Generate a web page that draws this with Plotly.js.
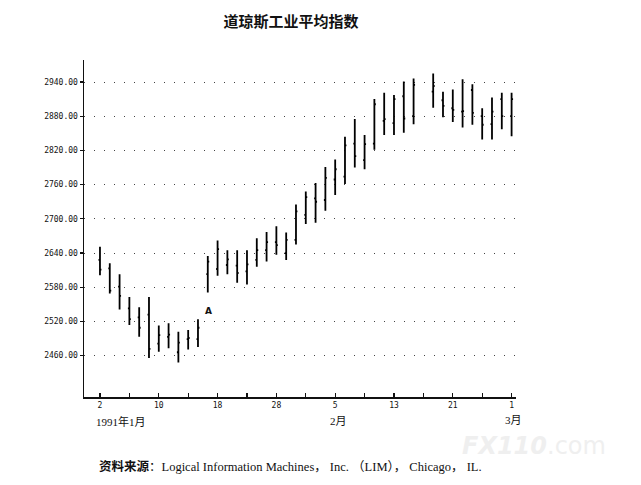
<!DOCTYPE html>
<html>
<head>
<meta charset="utf-8">
<script src="https://cdn.plot.ly/plotly-3.0.1.min.js"></script>
<style>html,body{margin:0;padding:0;background:#fff;}#chart{width:641px;height:485px;}</style>
</head>
<body>
<div id="chart"></div>
<script>
// Trading-day slots (Feb 18 holiday kept as an empty slot)
const days = ['1/2','1/3','1/4','1/7','1/8','1/9','1/10','1/11','1/14','1/15','1/16','1/17','1/18',
  '1/21','1/22','1/23','1/24','1/25','1/28','1/29','1/30','1/31','2/1','2/4','2/5','2/6','2/7','2/8',
  '2/11','2/12','2/13','2/14','2/15','2/18','2/19','2/20','2/21','2/22','2/25','2/26','2/27','2/28','3/1'];
const openV  = [2628,2613,2581,2543,2527,2532,2481,2493,2466,2489,2489,2603,2612,
  2619,2618,2608,2628,2645,2659,2640,2663,2707,2736,2733,2769,2774,2832,2803,
  2832,2872,2868,2915,2880,null,2923,2908,2894,2888,2926,2880,2866,2910,2880];
const highV  = [2651,2622,2603,2563,2545,2563,2513,2517,2502,2505,2524,2635,2662,
  2645,2645,2645,2666,2677,2687,2676,2725,2748,2763,2791,2804,2844,2875,2847,
  2910,2921,2917,2941,2946,null,2955,2923,2927,2945,2936,2894,2913,2921,2921];
const lowV   = [2601,2569,2541,2514,2493,2456,2467,2473,2448,2471,2475,2571,2600,
  2603,2588,2585,2616,2625,2637,2628,2655,2691,2693,2714,2742,2761,2790,2787,
  2821,2847,2847,2851,2866,null,2895,2878,2870,2860,2865,2839,2839,2857,2845];
const closeV = [2611,2574,2565,2524,2509,2472,2496,2497,2483,2491,2509,2625,2647,
  2629,2605,2620,2645,2659,2654,2663,2713,2738,2730,2772,2787,2829,2810,2831,
  2901,2875,2910,2876,2935,null,2933,2898,2891,2889,2886,2865,2888,2880,2910];
const tickLabels = ['2','','10','','18','','28','','5','','13','','21','','1'];
const yTicks = [2460,2520,2580,2640,2700,2760,2820,2880,2940];

const xs=[],o=[],h=[],l=[],c=[];
days.forEach((d,i)=>{ if(highV[i]!==null){xs.push(i);o.push(openV[i]);h.push(highV[i]);l.push(lowV[i]);c.push(closeV[i]);} });
const tickVals = tickLabels.map((t,i)=>i*3);

const trace = {
  type:'ohlc', x:xs, open:o, high:h, low:l, close:c,
  increasing:{line:{color:'#000',width:1.8}},
  decreasing:{line:{color:'#000',width:1.8}},
  tickwidth:0.15, hoverinfo:'skip', showlegend:false
};

// plot area: x 84..516 px, y 60..397 px
const px = v => (v-84)/432;
const py = v => (397-v)/337;
const monoFont = {family:'DejaVu Sans Mono, monospace', size:8, color:'#111'};
const serifFont = {family:'Liberation Serif, Noto Sans CJK SC, serif', size:11, color:'#111'};
const layout = {
  width:641, height:485,
  margin:{l:84, r:125, t:60, b:88},
  paper_bgcolor:'#fff', plot_bgcolor:'#fff',
  title:{text:'<b>道琼斯工业平均指数</b>', x:0.454, xref:'container', xanchor:'center',
         y:0.955, yref:'container', yanchor:'middle',
         font:{family:'Noto Sans CJK SC, sans-serif', size:15, color:'#111'}},
  xaxis:{type:'linear', range:[-1.63,42.45], showgrid:false, zeroline:false,
         showline:true, linecolor:'#111', linewidth:1.5,
         tickmode:'array', tickvals:tickVals, ticktext:tickLabels,
         ticks:'inside', ticklen:4, tickcolor:'#111', tickwidth:1.2,
         tickfont:monoFont, rangeslider:{visible:false}, fixedrange:true},
  yaxis:{range:[2387.5,2978.6], showgrid:true, gridcolor:'#444', gridwidth:1, griddash:'1px,9px',
         zeroline:false, showline:true, linecolor:'#111', linewidth:1.5,
         tickmode:'array', tickvals:yTicks, tickformat:'.2f',
         ticks:'outside', ticklen:3, tickcolor:'#111', tickwidth:1.2,
         tickfont:monoFont, fixedrange:true},
  annotations:[
    {text:'<b><i>FX110</i></b>.com', x:px(608), xref:'paper', xanchor:'right', y:py(446), yref:'paper', yanchor:'middle', showarrow:false,
     font:{family:'DejaVu Sans, sans-serif', size:24, color:'#efefef'}},
    {text:'<b>A</b>', x:11.1, y:2538, xref:'x', yref:'y', showarrow:false,
     font:{family:'DejaVu Sans, sans-serif', size:9, color:'#111'}},
    {text:'1991年1月', x:-0.6, xref:'x', xanchor:'left', y:py(421), yref:'paper', yanchor:'middle', showarrow:false, font:serifFont},
    {text:'2月', x:24.3, xref:'x', xanchor:'center', y:py(421), yref:'paper', yanchor:'middle', showarrow:false, font:serifFont},
    {text:'3月', x:42.2, xref:'x', xanchor:'center', y:py(420), yref:'paper', yanchor:'middle', showarrow:false, font:serifFont},
    {text:'<b>资料来源</b>：Logical Information Machines， Inc. （LIM）， Chicago， IL.',
     x:px(97), xref:'paper', xanchor:'left', y:py(466), yref:'paper', yanchor:'middle', showarrow:false,
     font:{family:'Liberation Serif, Noto Sans CJK SC, serif', size:12.5, color:'#111'}}
  ]
};
Plotly.newPlot('chart',[trace],layout,{staticPlot:true});
</script>
</body>
</html>
